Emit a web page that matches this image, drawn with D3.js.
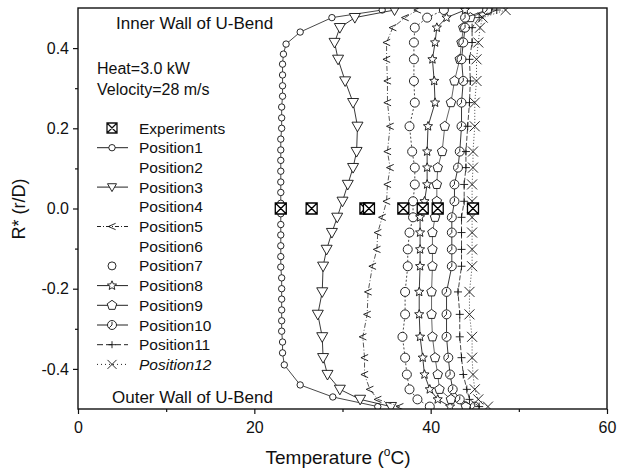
<!DOCTYPE html>
<html>
<head>
<meta charset="utf-8">
<script src="https://cdn.jsdelivr.net/npm/d3@7"></script>
<style>
  body { margin: 0; background: #fff; }
  svg text { font-family: "Liberation Sans", Arial, sans-serif; fill: #111; }
</style>
</head>
<body>
<div id="chart"></div>
<script>
// Shared radial positions (R* = r/D) of the computed profiles
const rGrid = [0.495, 0.476, 0.451, 0.414, 0.372, 0.318, 0.264, 0.205, 0.142, 0.102, 0.06, 0.018,
  -0.022, -0.06, -0.102, -0.144, -0.208, -0.264, -0.32, -0.372, -0.414, -0.451, -0.476, -0.494];

// Position1 has a finer grid
const pos1R = [0.495, 0.476, 0.44, 0.41, 0.385, 0.36, 0.333, 0.306, 0.28, 0.253, 0.226, 0.2, 0.173, 0.146,
  0.12, 0.093, 0.066, 0.04, 0.013, -0.013, -0.04, -0.066, -0.093, -0.12, -0.146, -0.173, -0.2, -0.226,
  -0.253, -0.28, -0.306, -0.333, -0.36, -0.39, -0.44, -0.47, -0.494];
const pos1T = [34.5, 28.8, 25.2, 23.6, 23.3, 23.2, 23.2, 23.2, 23.2, 23.1, 23.1, 23.1, 23.0, 23.0,
  23.0, 23.0, 23.0, 23.0, 23.0, 23.0, 23.0, 23.0, 23.0, 23.0, 23.0, 23.1, 23.1, 23.1,
  23.1, 23.1, 23.1, 23.2, 23.2, 23.4, 25.2, 28.9, 34.0];

const pos3T = [35.9, 31.4, 29.7, 29.1, 29.5, 30.3, 31.2, 31.7, 31.6, 31.2, 30.6, 30.0,
  29.4, 28.8, 28.2, 27.8, 27.7, 27.2, 27.7, 27.8, 28.3, 29.7, 32.0, 35.5];
const pos5T = [38.5, 37.1, 35.7, 35.0, 35.0, 35.1, 35.1, 35.4, 35.1, 35.4, 35.1, 35.0,
  34.5, 34.0, 33.9, 33.4, 32.9, 32.8, 32.3, 32.5, 32.5, 33.1, 34.0, 36.5];
const pos7T = [41.5, 39.6, 38.2, 38.1, 38.1, 38.1, 38.2, 37.6, 37.9, 38.2, 38.2, 38.0,
  38.0, 37.6, 37.4, 37.4, 37.1, 37.1, 36.8, 37.1, 37.3, 37.6, 38.5, 39.9];
const pos8T = [43.9, 41.8, 40.7, 40.5, 40.2, 40.4, 40.5, 39.7, 39.6, 39.6, 39.6, 39.3,
  38.8, 38.8, 38.8, 38.8, 38.7, 38.7, 38.8, 39.1, 39.3, 39.9, 40.8, 42.2];
const pos9T = [46.5, 44.5, 43.7, 43.5, 43.3, 42.7, 42.3, 41.6, 41.3, 40.8, 40.7, 40.7,
  40.5, 40.2, 40.2, 40.2, 40.1, 40.1, 40.2, 40.5, 40.8, 41.0, 42.3, 44.0];
const pos10T = [46.4, 43.9, 43.9, 43.7, 43.5, 43.7, 43.5, 43.5, 43.3, 43.1, 42.7, 42.7,
  42.4, 42.4, 42.4, 42.4, 41.8, 41.8, 41.8, 42.0, 42.2, 42.5, 43.3, 45.0];
const pos11T = [47.5, 45.5, 44.7, 44.7, 44.4, 44.5, 44.4, 44.2, 44.0, 44.0, 43.8, 43.8,
  43.5, 43.5, 43.5, 43.5, 43.1, 43.3, 43.3, 43.5, 43.7, 44.1, 44.4, 45.5];
const pos12T = [48.5, 45.9, 45.6, 45.4, 45.2, 45.2, 45.0, 45.0, 44.8, 44.8, 44.7, 44.7,
  44.7, 44.7, 44.7, 44.7, 44.4, 44.4, 44.7, 44.7, 44.8, 45.0, 45.4, 46.5];

// Measured points, all on the centreline
const expT = [23.0, 26.5, 32.6, 33.0, 36.9, 39.1, 40.8, 44.8];
const expR = [0, 0, 0, 0, 0, 0, 0, 0];

const legendLabels = ["Experiments", "Position1", "Position2", "Position3", "Position4", "Position5",
  "Position6", "Position7", "Position8", "Position9", "Position10", "Position11", "Position12"];
const xTicks = [0, 20, 40, 60];
const yTicks = [-0.4, -0.2, 0.0, 0.2, 0.4];

const width = 619, height = 472;
const svg = d3.select("#chart").append("svg")
    .attr("width", width)
    .attr("height", height);

const x = d3.scaleLinear().domain([0, 60]).range([78, 607]);
const y = d3.scaleLinear().domain([-0.5, 0.5]).range([409, 8]);

// Marker shapes drawn as paths
function markerPath(type, s) {
  const p = d3.path();
  if (type === "circle") {
    p.moveTo(s, 0); p.arc(0, 0, s, 0, 2 * Math.PI);
  } else if (type === "tri") {
    p.moveTo(-s, -s * 0.75); p.lineTo(s, -s * 0.75); p.lineTo(0, s); p.closePath();
  } else if (type === "lt") {
    p.moveTo(s * 0.8, -s * 0.7); p.lineTo(-s * 0.8, 0); p.lineTo(s * 0.8, s * 0.7);
  } else if (type === "star") {
    for (let i = 0; i < 10; i++) {
      const a = -Math.PI / 2 + i * Math.PI / 5;
      const rr = i % 2 ? s * 0.45 : s;
      i ? p.lineTo(rr * Math.cos(a), rr * Math.sin(a)) : p.moveTo(rr * Math.cos(a), rr * Math.sin(a));
    }
    p.closePath();
  } else if (type === "pent") {
    for (let i = 0; i < 5; i++) {
      const a = -Math.PI / 2 + i * 2 * Math.PI / 5;
      i ? p.lineTo(s * Math.cos(a), s * Math.sin(a)) : p.moveTo(s * Math.cos(a), s * Math.sin(a));
    }
    p.closePath();
  } else if (type === "cslash") {
    p.moveTo(s, 0); p.arc(0, 0, s, 0, 2 * Math.PI);
    p.moveTo(0, 0); p.lineTo(-s * 0.6, s * 0.6);
    p.moveTo(0, 0); p.lineTo(0, -s * 0.7);
  } else if (type === "plus") {
    p.moveTo(-s, 0); p.lineTo(s, 0); p.moveTo(0, -s); p.lineTo(0, s);
  } else if (type === "x") {
    p.moveTo(-s, -s); p.lineTo(s, s); p.moveTo(-s, s); p.lineTo(s, -s);
  } else if (type === "boxx") {
    p.rect(-s, -s, 2 * s, 2 * s);
    p.moveTo(-s, -s); p.lineTo(s, s); p.moveTo(-s, s); p.lineTo(s, -s);
  }
  return p.toString();
}

const series = [
  { name: "Position1", t: pos1T, r: pos1R, marker: "circle", size: 3.2, dash: null, stroke: "#333" },
  { name: "Position3", t: pos3T, r: rGrid, marker: "tri", size: 5.5, dash: null, stroke: "#222" },
  { name: "Position5", t: pos5T, r: rGrid, marker: "lt", size: 4.5, dash: "5,2,1,2", stroke: "#444" },
  { name: "Position7", t: pos7T, r: rGrid, marker: "circle", size: 4.5, dash: "2,2", stroke: "#333" },
  { name: "Position8", t: pos8T, r: rGrid, marker: "star", size: 4.8, dash: null, stroke: "#222" },
  { name: "Position9", t: pos9T, r: rGrid, marker: "pent", size: 5, dash: null, stroke: "#555" },
  { name: "Position10", t: pos10T, r: rGrid, marker: "cslash", size: 4.5, dash: null, stroke: "#222" },
  { name: "Position11", t: pos11T, r: rGrid, marker: "plus", size: 4, dash: "5,2", stroke: "#333" },
  { name: "Position12", t: pos12T, r: rGrid, marker: "x", size: 5, dash: "1,2", stroke: "#333" }
];

svg.append("clipPath").attr("id", "plot-clip")
  .append("rect").attr("x", 78).attr("y", 8).attr("width", 529).attr("height", 401);

const plot = svg.append("g").attr("clip-path", "url(#plot-clip)");
const line = d3.line().x(d => x(d[0])).y(d => y(d[1]));

series.forEach(s => {
  const pts = s.t.map((t, i) => [t, s.r[i]]);
  plot.append("path")
    .attr("d", line(pts))
    .attr("fill", "none")
    .attr("stroke", s.stroke)
    .attr("stroke-width", 0.9)
    .attr("stroke-dasharray", s.dash);
  plot.selectAll(null).data(pts).enter().append("path")
    .attr("transform", d => `translate(${x(d[0])},${y(d[1])})`)
    .attr("d", markerPath(s.marker, s.size))
    .attr("fill", s.marker === "lt" || s.marker === "plus" || s.marker === "x" ? "none" : "#fff")
    .attr("stroke", "#111")
    .attr("stroke-width", 0.9);
});

// Experiments
plot.selectAll(null).data(expT.map((t, i) => [t, expR[i]])).enter().append("path")
  .attr("transform", d => `translate(${x(d[0])},${y(d[1])})`)
  .attr("d", markerPath("boxx", 5.5))
  .attr("fill", "#fff")
  .attr("stroke", "#000")
  .attr("stroke-width", 1.3);

// Axes (plain hyphen for negatives, like the original)
const yFmt = d => d3.format(".1f")(d).replace("\u2212", "-");
svg.append("g").attr("transform", "translate(0,409)")
  .call(d3.axisBottom(x).tickValues(xTicks).tickFormat(d3.format("d")).tickSize(5).tickPadding(8));
svg.append("g").attr("transform", "translate(0,409)")
  .call(d3.axisBottom(x).tickValues([10, 30, 50]).tickFormat("").tickSize(3));
svg.append("g").attr("transform", "translate(78,0)")
  .call(d3.axisLeft(y).tickValues(yTicks).tickFormat(yFmt).tickSize(5).tickPadding(4));
svg.append("g").attr("transform", "translate(78,0)")
  .call(d3.axisLeft(y).tickValues([-0.3, -0.1, 0.1, 0.3]).tickFormat("").tickSize(3));

svg.selectAll(".domain").remove();
svg.selectAll(".tick line").attr("stroke", "#111").attr("stroke-width", 1.2);
svg.selectAll(".tick text").attr("font-size", 16).attr("fill", "#111")
  .attr("font-family", "'Liberation Sans', Arial, sans-serif");

// Frame
svg.append("rect")
  .attr("x", 78).attr("y", 8).attr("width", 529).attr("height", 401)
  .attr("fill", "none").attr("stroke", "#111").attr("stroke-width", 1.4);

// Axis titles
const xt = svg.append("text")
  .attr("x", 338).attr("y", 464)
  .attr("text-anchor", "middle")
  .attr("font-size", 19);
xt.append("tspan").text("Temperature (");
xt.append("tspan").attr("font-size", 12).attr("dy", -8).text("o");
xt.append("tspan").attr("dy", 8).text("C)");

svg.append("text")
  .attr("transform", "translate(25,209) rotate(-90)")
  .attr("text-anchor", "middle")
  .attr("font-size", 18)
  .text("R* (r/D)");

// Annotations
svg.append("text").attr("x", 116).attr("y", 29).attr("font-size", 17).text("Inner Wall of U-Bend");
svg.append("text").attr("x", 97).attr("y", 74).attr("font-size", 16).text("Heat=3.0 kW");
svg.append("text").attr("x", 97).attr("y", 95).attr("font-size", 16).text("Velocity=28 m/s");
svg.append("text").attr("x", 112).attr("y", 403).attr("font-size", 17).text("Outer Wall of U-Bend");

// Legend
const legendStyle = {
  "Experiments": { marker: "boxx", size: 5, dash: null, line: false },
  "Position1": { marker: "circle", size: 3.2, dash: null, line: true },
  "Position3": { marker: "tri", size: 4.5, dash: null, line: true },
  "Position5": { marker: "lt", size: 4.5, dash: "4,2,1,2", line: true },
  "Position7": { marker: "circle", size: 4, dash: null, line: false },
  "Position8": { marker: "star", size: 4.8, dash: null, line: true },
  "Position9": { marker: "pent", size: 5, dash: null, line: true },
  "Position10": { marker: "cslash", size: 4.5, dash: null, line: true },
  "Position11": { marker: "plus", size: 3.5, dash: "6,3", line: true },
  "Position12": { marker: "x", size: 4.5, dash: "1,3", line: true }
};
const legend = svg.append("g");
legendLabels.forEach((name, i) => {
  const ly = 128 + i * 19.7;
  const st = legendStyle[name];
  if (st) {
    if (st.line) {
      legend.append("line").attr("x1", 97).attr("x2", 128).attr("y1", ly).attr("y2", ly)
        .attr("stroke", "#222").attr("stroke-width", 1).attr("stroke-dasharray", st.dash);
    }
    legend.append("path")
      .attr("transform", `translate(112,${ly})`)
      .attr("d", markerPath(st.marker, st.size))
      .attr("fill", st.marker === "lt" || st.marker === "plus" || st.marker === "x" ? "none" : "#fff")
      .attr("stroke", "#111").attr("stroke-width", st.marker === "boxx" ? 1.3 : 0.9);
  }
  legend.append("text")
    .attr("x", 139).attr("y", ly + 5.5)
    .attr("font-size", 15.5)
    .attr("font-style", name === "Position12" ? "italic" : null)
    .text(name);
});
</script>
</body>
</html>
